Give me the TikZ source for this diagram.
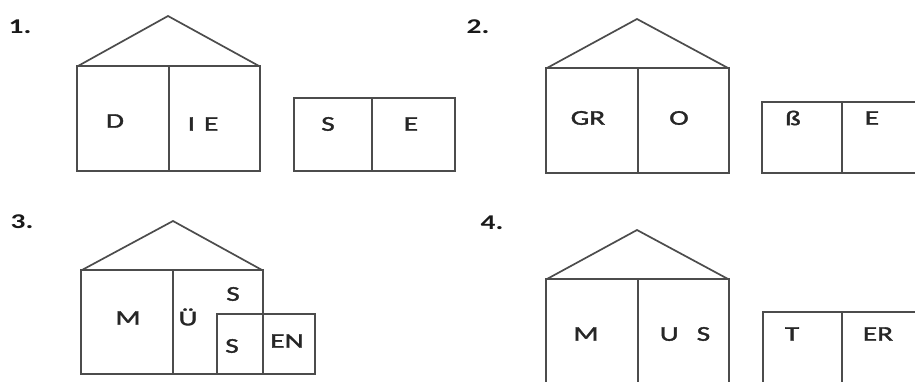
\documentclass[tikz,border=0pt]{standalone}
\usepackage{fontspec}
\setmainfont{Carlito}[FakeStretch=1.4]
\newcommand\heavytext[1]{\special{pdf:literal direct 2 Tr 0.35 w}#1\special{pdf:literal direct 0 Tr}}
\begin{document}
\begin{tikzpicture}[x=1pt,y=-1pt,
  wall/.style={draw=black!70,line width=1.7pt,line join=miter},
  lbl/.style={font=\fontsize{21}{22}\selectfont,text=black!85,inner sep=0pt},
  num/.style={font=\fontsize{21}{22}\selectfont\bfseries,text=black!90,inner sep=0pt}]
\useasboundingbox (0,0) rectangle (915,381);
\clip (0,0) rectangle (915,381);
% panel 1
\node[num] (n1) at (20,27) {1.};
\draw[wall] (78,66) -- (168,16) -- (259,66);
\draw[wall] (77,66) rectangle (260,171);
\draw[wall] (169,66) -- (169,171);
\node[lbl] (a1) at (115,121) {\heavytext{D}};
\node[lbl] (a2) at (203,124) {\heavytext{I\hspace{9pt}E}};
\draw[wall] (294,98) rectangle (455,171);
\draw[wall] (372,98) -- (372,171);
\node[lbl] (a3) at (328,124) {\heavytext{S}};
\node[lbl] (a4) at (411,124) {\heavytext{E}};
% panel 2
\node[num] (n2) at (478,27) {2.};
\draw[wall] (547,68) -- (637,19) -- (728,68);
\draw[wall] (546,68) rectangle (729,173);
\draw[wall] (638,68) -- (638,173);
\node[lbl] (b1) at (588,118) {\heavytext{GR}};
\node[lbl] (b2) at (679,118) {\heavytext{O}};
\draw[wall] (762,102) rectangle (922,173);
\draw[wall] (842,102) -- (842,173);
\node[lbl] (b3) at (793,118) {\heavytext{ß}};
\node[lbl] (b4) at (872,118) {\heavytext{E}};
% panel 3
\node[num] (n3) at (22,222) {3.};
\draw[wall] (82,270) -- (173,221) -- (262,270);
\draw[wall] (81,270) rectangle (263,374);
\draw[wall] (173,270) -- (173,374);
\draw[wall] (217,314) rectangle (315,374);
\node[lbl] (c1) at (128,318) {\heavytext{M}};
\node[lbl] (c2) at (188,317) {\heavytext{Ü}};
\node[lbl] (c3) at (233,294) {\heavytext{S}};
\node[lbl] (c4) at (232,346) {\heavytext{S}};
\node[lbl] (c5) at (287,341) {\heavytext{EN}};
% panel 4
\node[num] (n4) at (492,223) {4.};
\draw[wall] (547,279) -- (637,230) -- (728,279);
\draw[wall] (546,279) rectangle (729,400);
\draw[wall] (638,279) -- (638,400);
\node[lbl] (d1) at (586,334) {\heavytext{M}};
\node[lbl] (d2) at (685,334) {\heavytext{U\hspace{18pt}S}};
\draw[wall] (763,312) rectangle (925,400);
\draw[wall] (842,312) -- (842,400);
\node[lbl] (d3) at (792,334) {\heavytext{T}};
\node[lbl] (d4) at (878,334) {\heavytext{ER}};
\end{tikzpicture}
\end{document}
